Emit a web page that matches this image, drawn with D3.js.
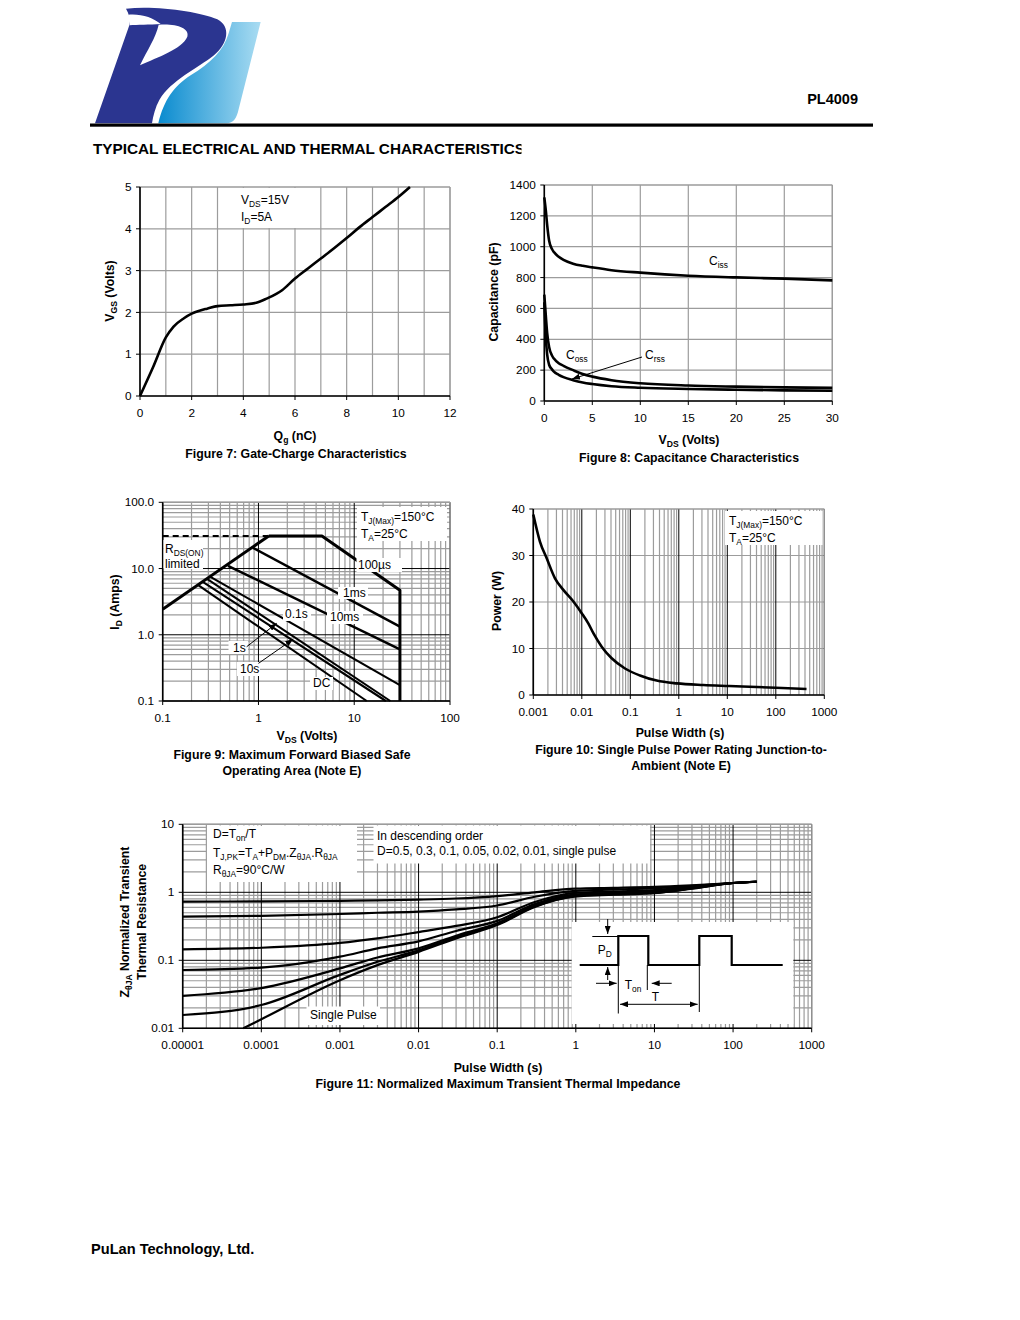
<!DOCTYPE html>
<html><head><meta charset="utf-8">
<script src="https://cdn.jsdelivr.net/npm/d3@7"></script>
<style>body{margin:0;background:#fff}text{font-family:"Liberation Sans",Arial,sans-serif;fill:#000}</style>
</head><body><svg id="c" width="1020" height="1320"></svg>
<script>
// ---------------- DATA ----------------
// Figure 7: gate charge
const qg  = [0,0.5,1,1.3,1.7,2,2.3,2.6,3,3.5,4,4.5,4.9,5.5,6,6.5,7,7.5,8,8.5,9,9.5,10,10.45];
const vgs = [0,0.68,1.4,1.66,1.86,1.97,2.04,2.09,2.15,2.17,2.19,2.23,2.33,2.53,2.81,3.05,3.29,3.53,3.78,4.04,4.28,4.52,4.76,5.0];
const fig7XTicks = [0,2,4,6,8,10,12];
const fig7YTicks = [0,1,2,3,4,5];
// Figure 8: capacitance
const vds8 = [0,0.15,0.3,0.5,0.8,1,1.5,2,3,4,5,7,10,15,20,25,30];
const ciss = [1320,1240,1140,1040,985,965,935,915,890,876,866,848,832,812,801,793,782];
const coss = [690,560,440,350,295,275,245,228,200,175,158,135,115,100,93,88,85];
const crss = [640,420,300,235,205,190,170,155,135,120,110,96,86,78,73,69,66];
const fig8XTicks = [0,5,10,15,20,25,30];
const fig8YTicks = [0,200,400,600,800,1000,1200,1400];
// Figure 9: SOA  [V, A]
const soaRds   = [[0.1,2.42],[1.28,31]];
const soaLimit = [[0.1,31],[1.28,31]];
const soa100us = [[1.28,31],[4.6,31],[30,4.7],[30,0.1]];
const soa1ms   = [[0.88,20.5],[30,1.33]];
const soa10ms  = [[0.48,11],[30,0.6]];
const soa01s   = [[0.315,7.5],[30,0.174]];
const soa1s    = [[0.29,7.0],[23.8,0.1]];
const soa10s   = [[0.262,6.3],[21.4,0.1]];
const soaDC    = [[0.235,5.6],[13.5,0.1]];
const fig9XTicks = [0.1,1,10,100];
const fig9XLabels = ["0.1","1","10","100"];
const fig9YTicks = [0.1,1,10,100];
const fig9YLabels = ["0.1","1.0","10.0","100.0"];
// Figure 10: single pulse power
const pw10 = [0.001,0.00137,0.00189,0.0028,0.00416,0.0067,0.00995,0.0136,0.0173,0.0257,0.0413,0.0778,0.158,0.35,0.906,3.2,11,100,430];
const pow10 = [38.8,33.0,29.4,25.1,22.6,20.1,17.6,15.4,13.3,10.4,7.9,5.7,4.2,3.1,2.5,2.15,1.94,1.57,1.3];
const fig10XTicks = [0.001,0.01,0.1,1,10,100,1000];
const fig10XLabels = ["0.001","0.01","0.1","1","10","100","1000"];
const fig10YTicks = [0,10,20,30,40];
// Figure 11: transient thermal impedance
const zthX    = [1e-5,1e-4,1e-3,3e-3,1e-2,3e-2,0.1,0.3,1,3,10,30,100,200];
const zthD05  = [0.73,0.735,0.75,0.76,0.78,0.81,0.88,1.0,1.13,1.16,1.2,1.27,1.37,1.43];
const zthD03  = [0.44,0.45,0.48,0.50,0.52,0.56,0.64,0.86,1.05,1.1,1.15,1.24,1.37,1.43];
const zthD01  = [0.145,0.153,0.18,0.21,0.26,0.32,0.43,0.72,0.98,1.03,1.08,1.2,1.37,1.43];
const zthD005 = [0.072,0.078,0.113,0.15,0.19,0.27,0.38,0.67,0.93,0.98,1.03,1.17,1.37,1.43];
const zthD002 = [0.030,0.039,0.076,0.11,0.15,0.23,0.35,0.64,0.90,0.95,1.0,1.15,1.37,1.43];
const zthD001 = [0.0157,0.022,0.061,0.095,0.14,0.22,0.34,0.62,0.88,0.93,0.98,1.14,1.37,1.43];
const zthSingleX = [5.9e-5,1e-4,1e-3,3e-3,1e-2,3e-2,0.1,0.3,1,3,10,30,100,200];
const zthSingle  = [0.01,0.0136,0.051,0.085,0.133,0.21,0.33,0.61,0.87,0.92,0.97,1.13,1.37,1.43];
const fig11XTicks = [1e-5,1e-4,1e-3,1e-2,0.1,1,10,100,1000];
const fig11XLabels = ["0.00001","0.0001","0.001","0.01","0.1","1","10","100","1000"];
const fig11YTicks = [0.01,0.1,1,10];
const fig11YLabels = ["0.01","0.1","1","10"];

// ---------------- DRAWING ----------------
const svg = d3.select("#c");
svg.append("rect").attr("width",1020).attr("height",1320).attr("fill","#fff");
const defs = svg.append("defs");
defs.append("marker").attr("id","arr").attr("viewBox","0 0 8 6").attr("refX",8).attr("refY",3)
  .attr("markerWidth",8).attr("markerHeight",6).attr("markerUnits","userSpaceOnUse").attr("orient","auto")
  .append("path").attr("d","M0,0L8,3L0,6Z").attr("fill","#000");
defs.append("marker").attr("id","arr2").attr("viewBox","0 0 8 6").attr("refX",0).attr("refY",3)
  .attr("markerWidth",8).attr("markerHeight",6).attr("markerUnits","userSpaceOnUse").attr("orient","auto")
  .append("path").attr("d","M8,0L0,3L8,6Z").attr("fill","#000");
const GRAY = "#9c9c9c";

function txt(g, x, y, parts, o={}) {
  const size = o.size||12;
  const t = g.append("text").attr("x",x).attr("y",y).attr("font-size",size)
    .attr("font-weight",o.bold?"bold":"normal").attr("text-anchor",o.anchor||"start").attr("dy","0.35em");
  if (o.rotate) t.attr("transform",`rotate(-90,${x},${y})`);
  if (typeof parts === "string") parts = [[parts]];
  let sh = 0;
  parts.forEach(p=>{
    const s = t.append("tspan").text(p[0]);
    if (p[1]==="sub") { s.attr("font-size",size*0.7); if (!sh) { s.attr("dy",3); sh=3; } }
    else if (sh) { s.attr("dy",-sh); sh=0; }
  });
  return t;
}
function whiteBox(g,x0,y0,x1,y1){ g.append("rect").attr("x",x0).attr("y",y0).attr("width",x1-x0).attr("height",y1-y0).attr("fill","#fff"); }
function logVals(a,b){ const v=[]; for(let e=Math.round(Math.log10(a)); e<Math.round(Math.log10(b)); e++){ for(let m=1;m<10;m++) v.push({v:m*Math.pow(10,e),major:m===1}); } v.push({v:b,major:true}); return v; }

function panel(c) {
  const g = svg.append("g");
  const x = (c.xlog?d3.scaleLog():d3.scaleLinear()).domain(c.xd).range(c.xr);
  const y = (c.ylog?d3.scaleLog():d3.scaleLinear()).domain(c.yd).range(c.yr);
  const xg = c.xlog ? logVals(c.xd[0],c.xd[1]) : c.xgrid.map(v=>({v,major:false}));
  const yg = c.ylog ? logVals(c.yd[0],c.yd[1]) : c.ygrid.map(v=>({v,major:false}));
  const gg = g.append("g");
  [false,true].forEach(mj=>{
    xg.filter(d=>d.major===mj).forEach(d=>gg.append("line").attr("x1",x(d.v)).attr("x2",x(d.v)).attr("y1",c.yr[0]).attr("y2",c.yr[1])
      .attr("stroke",mj?"#000":GRAY).attr("stroke-width",mj?1:1.2));
    yg.filter(d=>d.major===mj).forEach(d=>gg.append("line").attr("y1",y(d.v)).attr("y2",y(d.v)).attr("x1",c.xr[0]).attr("x2",c.xr[1])
      .attr("stroke",mj?"#000":GRAY).attr("stroke-width",mj?1:1.2));
  });
  gg.append("line").attr("x1",c.xr[0]).attr("x2",c.xr[1]).attr("y1",c.yr[1]).attr("y2",c.yr[1]).attr("stroke",GRAY).attr("stroke-width",1.2);
  gg.append("line").attr("x1",c.xr[1]).attr("x2",c.xr[1]).attr("y1",c.yr[0]).attr("y2",c.yr[1]).attr("stroke",GRAY).attr("stroke-width",1.2);
  const ax = g.append("g");
  ax.append("line").attr("x1",c.xr[0]).attr("x2",c.xr[0]).attr("y1",c.yr[0]).attr("y2",c.yr[1]).attr("stroke","#000").attr("stroke-width",1.6);
  ax.append("line").attr("x1",c.xr[0]).attr("x2",c.xr[1]).attr("y1",c.yr[0]).attr("y2",c.yr[0]).attr("stroke","#000").attr("stroke-width",1.6);
  c.xticks.forEach((v,i)=>{
    ax.append("line").attr("x1",x(v)).attr("x2",x(v)).attr("y1",c.yr[0]).attr("y2",c.yr[0]+4).attr("stroke","#000");
    txt(ax, x(v), c.yr[0]+17, c.xlabels?c.xlabels[i]:String(v), {size:11.8, anchor:"middle"});
  });
  c.yticks.forEach((v,i)=>{
    ax.append("line").attr("x1",c.xr[0]).attr("x2",c.xr[0]-4).attr("y1",y(v)).attr("y2",y(v)).attr("stroke","#000");
    txt(ax, c.xr[0]-8.5, y(v), c.ylabels?c.ylabels[i]:String(v), {size:11.8, anchor:"end"});
  });
  return {g,x,y,ax};
}
function path(p, pts, w, curve, dash) {
  const l = d3.line().x(d=>p.x(d[0])).y(d=>p.y(d[1]));
  if (curve) l.curve(d3.curveMonotoneX);
  const e = p.g.append("path").attr("d",l(pts)).attr("fill","none").attr("stroke","#000").attr("stroke-width",w)
    .attr("stroke-linejoin","round");
  if (dash) e.attr("stroke-dasharray",dash);
  return e;
}
const zip = (a,b)=>a.map((v,i)=>[v,b[i]]);

// ---- Header ----
const grad = defs.append("linearGradient").attr("id","lg").attr("x1","0").attr("x2","1").attr("y1","0").attr("y2","0");
grad.append("stop").attr("offset","0").attr("stop-color","#0a8bcf");
grad.append("stop").attr("offset","1").attr("stop-color","#a9dcf2");
const logo = svg.append("g").attr("transform","translate(90,0) scale(0.3333)");
logo.append("path").attr("fill","url(#lg)")
  .attr("d","M205,370 C222,300 252,258 302,226 C362,190 402,150 416,100 L426,66 L512,66 L446,328 C440,356 430,370 410,370 Z");
logo.append("path").attr("fill","#2b3590")
  .attr("d","M15,370 L118,76 C120,60 118,42 108,26 C200,16 330,36 382,58 C424,80 414,132 372,166 C322,206 244,240 208,300 C196,322 190,346 186,370 Z");
logo.append("path").attr("fill","#fff")
  .attr("d","M206,74 C258,70 300,84 292,110 C276,148 204,170 150,196 C172,150 198,112 206,74 Z");
logo.append("path").attr("fill","#fff")
  .attr("d","M114,44 C150,40 190,52 212,72 C180,74 140,74 119,76 Z");

txt(svg, 858, 99, "PL4009", {size:14.5, bold:true, anchor:"end"});
svg.append("rect").attr("x",90).attr("y",123.5).attr("width",783).attr("height",3.2).attr("fill","#000");
defs.append("clipPath").attr("id","hc").append("rect").attr("x",80).attr("y",130).attr("width",441.5).attr("height",40);
txt(svg.append("g").attr("clip-path","url(#hc)"), 93, 149, "TYPICAL ELECTRICAL AND THERMAL CHARACTERISTICS", {size:15.3, bold:true});
txt(svg, 91, 1249, "PuLan Technology, Ltd.", {size:14.6, bold:true});

// ---- Figure 7 ----
const p7 = panel({xd:[0,12], xr:[140,450], yd:[0,5], yr:[396,187], xgrid:d3.range(0,13), ygrid:d3.range(0,6),
  xticks:fig7XTicks, yticks:fig7YTicks});
whiteBox(p7.g, 238, 188, 303, 228);
txt(p7.g, 241, 200, [["V"],["DS","sub"],["=15V"]], {size:12});
txt(p7.g, 241, 217, [["I"],["D","sub"],["=5A"]], {size:12});
path(p7, zip(qg,vgs), 2.6, true);
txt(svg, 110, 291, [["V"],["GS","sub"],[" (Volts)"]], {size:12.3, bold:true, anchor:"middle", rotate:true});
txt(svg, 295, 436, [["Q"],["g","sub"],[" (nC)"]], {size:12.3, bold:true, anchor:"middle"});
txt(svg, 296, 454, "Figure 7: Gate-Charge Characteristics", {size:12.3, bold:true, anchor:"middle"});

// ---- Figure 8 ----
const p8 = panel({xd:[0,30], xr:[544.3,832.3], yd:[0,1400], yr:[401,185], xgrid:d3.range(0,31,5), ygrid:d3.range(0,1401,200),
  xticks:fig8XTicks, yticks:fig8YTicks});
path(p8, zip(vds8,ciss), 2.6, true);
path(p8, zip(vds8,coss), 2.6, true);
path(p8, zip(vds8,crss), 2.6, true);
txt(p8.g, 709, 261, [["C"],["iss","sub"]], {size:12});
txt(p8.g, 566, 355, [["C"],["oss","sub"]], {size:12});
txt(p8.g, 645, 355, [["C"],["rss","sub"]], {size:12});
p8.g.append("line").attr("x1",642).attr("y1",357).attr("x2",572).attr("y2",379).attr("stroke","#000").attr("stroke-width",1).attr("marker-end","url(#arr)");
txt(svg, 494, 292, "Capacitance (pF)", {size:12.3, bold:true, anchor:"middle", rotate:true});
txt(svg, 689, 440, [["V"],["DS","sub"],[" (Volts)"]], {size:12.3, bold:true, anchor:"middle"});
txt(svg, 689, 458, "Figure 8: Capacitance Characteristics", {size:12.3, bold:true, anchor:"middle"});

// ---- Figure 9 ----
const p9 = panel({xlog:true, xd:[0.1,100], xr:[162.7,450], ylog:true, yd:[0.1,100], yr:[701,502.3],
  xticks:fig9XTicks, xlabels:fig9XLabels, yticks:fig9YTicks, ylabels:fig9YLabels});
whiteBox(p9.g, 357, 507, 447, 541);
whiteBox(p9.g, 163.5, 540, 203, 569);
path(p9, soaLimit, 2, false, "6,4");
[soa1ms, soa10ms].forEach(s=>path(p9, s, 2.5));
[soa01s, soa1s, soa10s, soaDC].forEach(s=>path(p9, s, 2.1));
path(p9, soaRds, 3);
path(p9, soa100us, 3);
whiteBox(p9.g, 356.5, 558, 402, 572);
whiteBox(p9.g, 338, 587, 368, 599);
whiteBox(p9.g, 327, 611, 363, 624);
whiteBox(p9.g, 283, 608, 311, 621);
whiteBox(p9.g, 228.5, 641, 248, 654);
whiteBox(p9.g, 237, 662, 260, 676);
whiteBox(p9.g, 310, 677, 333, 690);
txt(p9.g, 361, 517, [["T"],["J(Max)","sub"],["=150°C"]], {size:12});
txt(p9.g, 361, 534, [["T"],["A","sub"],["=25°C"]], {size:12});
txt(p9.g, 165, 549, [["R"],["DS(ON)","sub"]], {size:12});
txt(p9.g, 165, 564, "limited", {size:12});
txt(p9.g, 358, 565, "100µs", {size:12});
txt(p9.g, 343, 593, "1ms", {size:12});
txt(p9.g, 330, 617, "10ms", {size:12});
txt(p9.g, 285, 614, "0.1s", {size:12});
txt(p9.g, 233, 648, "1s", {size:12});
txt(p9.g, 240, 669, "10s", {size:12});
txt(p9.g, 313, 683, "DC", {size:12});
p9.g.append("line").attr("x1",p9.x(0.753)).attr("y1",p9.y(0.66)).attr("x2",p9.x(1.55)).attr("y2",p9.y(1.49)).attr("stroke","#000").attr("marker-end","url(#arr)");
p9.g.append("line").attr("x1",p9.x(1.0)).attr("y1",p9.y(0.37)).attr("x2",p9.x(2.31)).attr("y2",p9.y(0.86)).attr("stroke","#000").attr("marker-end","url(#arr)");
txt(svg, 115, 602, [["I"],["D","sub"],[" (Amps)"]], {size:12.3, bold:true, anchor:"middle", rotate:true});
txt(svg, 307, 736, [["V"],["DS","sub"],[" (Volts)"]], {size:12.3, bold:true, anchor:"middle"});
txt(svg, 292, 755, "Figure 9: Maximum Forward Biased Safe", {size:12.3, bold:true, anchor:"middle"});
txt(svg, 292, 771, "Operating Area (Note E)", {size:12.3, bold:true, anchor:"middle"});

// ---- Figure 10 ----
const p10 = panel({xlog:true, xd:[0.001,1000], xr:[533.3,824.3], yd:[0,40], yr:[695,509], ygrid:d3.range(0,41,10),
  xticks:fig10XTicks, xlabels:fig10XLabels, yticks:fig10YTicks});
whiteBox(p10.g, 725, 511, 822.5, 545);
path(p10, zip(pw10,pow10), 2.6, true);
txt(p10.g, 729, 521, [["T"],["J(Max)","sub"],["=150°C"]], {size:12});
txt(p10.g, 729, 538, [["T"],["A","sub"],["=25°C"]], {size:12});
txt(svg, 497, 601, "Power (W)", {size:12.3, bold:true, anchor:"middle", rotate:true});
txt(svg, 680, 733, "Pulse Width (s)", {size:12.3, bold:true, anchor:"middle"});
txt(svg, 681, 750, "Figure 10: Single Pulse Power Rating Junction-to-", {size:12.3, bold:true, anchor:"middle"});
txt(svg, 681, 766, "Ambient (Note E)", {size:12.3, bold:true, anchor:"middle"});

// ---- Figure 11 ----
const p11 = panel({xlog:true, xd:[1e-5,1000], xr:[182.7,811.7], ylog:true, yd:[0.01,10], yr:[1028.3,824.3],
  xticks:fig11XTicks, xlabels:fig11XLabels, yticks:fig11YTicks, ylabels:fig11YLabels});
whiteBox(p11.g, 207, 825.5, 357, 882);
whiteBox(p11.g, 373.5, 825.5, 650, 863.5);
whiteBox(p11.g, 306.5, 1006.5, 380, 1025);
whiteBox(p11.g, 571.7, 922, 793.3, 1024);
[zthD05,zthD03,zthD01,zthD005,zthD002,zthD001].forEach(s=>path(p11, zip(zthX,s), 2.2, true));
path(p11, zip(zthSingleX,zthSingle), 2.2, true);
txt(p11.g, 213, 834, [["D=T"],["on","sub"],["/T"]], {size:12});
txt(p11.g, 213, 853, [["T"],["J,PK","sub"],["=T"],["A","sub"],["+P"],["DM","sub"],[".Z"],["θJA","sub"],[".R"],["θJA","sub"]], {size:12});
txt(p11.g, 213, 870, [["R"],["θJA","sub"],["=90°C/W"]], {size:12});
txt(p11.g, 377, 836, "In descending order", {size:12});
txt(p11.g, 377, 851, "D=0.5, 0.3, 0.1, 0.05, 0.02, 0.01, single pulse", {size:12});
txt(p11.g, 310, 1015, "Single Pulse", {size:12});
// inset: pulse train schematic (local units)
const inset = p11.g.append("g").attr("transform","translate(571.7,922)");
const wave = [[8,43],[46.6,43],[46.6,14],[76.6,14],[76.6,43],[127.6,43],[127.6,14],[160,14],[160,43],[211,43]];
inset.append("path").attr("d",d3.line()(wave)).attr("fill","none").attr("stroke","#000").attr("stroke-width",2.2);
const thin = (x1,y1,x2,y2,m)=>{const l=inset.append("line").attr("x1",x1).attr("y1",y1).attr("x2",x2).attr("y2",y2).attr("stroke","#000").attr("stroke-width",1); if(m) l.attr("marker-end","url(#arr)"); if(m==="both") l.attr("marker-start","url(#arr2)");};
thin(20.6,14.5,46.6,14.5);
thin(36,-3,36,12,true);
thin(36,58,36,45,true);
thin(24.3,61.3,45,61.3,true);
thin(100,61.3,80,61.3,true);
thin(46.6,43,46.6,91.5);
thin(75.6,43,75.6,68);
thin(127.6,43,127.6,90);
thin(48.3,82.3,126,82.3,"both");
txt(inset, 26, 28, [["P"],["D","sub"]], {size:12});
txt(inset, 53, 63, [["T"],["on","sub"]], {size:12});
txt(inset, 80, 74.7, "T", {size:12});
txt(svg, 125, 922, [["Z"],["θJA","sub"],[" Normalized Transient"]], {size:12.3, bold:true, anchor:"middle", rotate:true});
txt(svg, 142, 922, "Thermal Resistance", {size:12.3, bold:true, anchor:"middle", rotate:true});
txt(svg, 498, 1068, "Pulse Width (s)", {size:12.3, bold:true, anchor:"middle"});
txt(svg, 498, 1084, "Figure 11: Normalized Maximum Transient Thermal Impedance", {size:12.3, bold:true, anchor:"middle"});
</script></body></html>
